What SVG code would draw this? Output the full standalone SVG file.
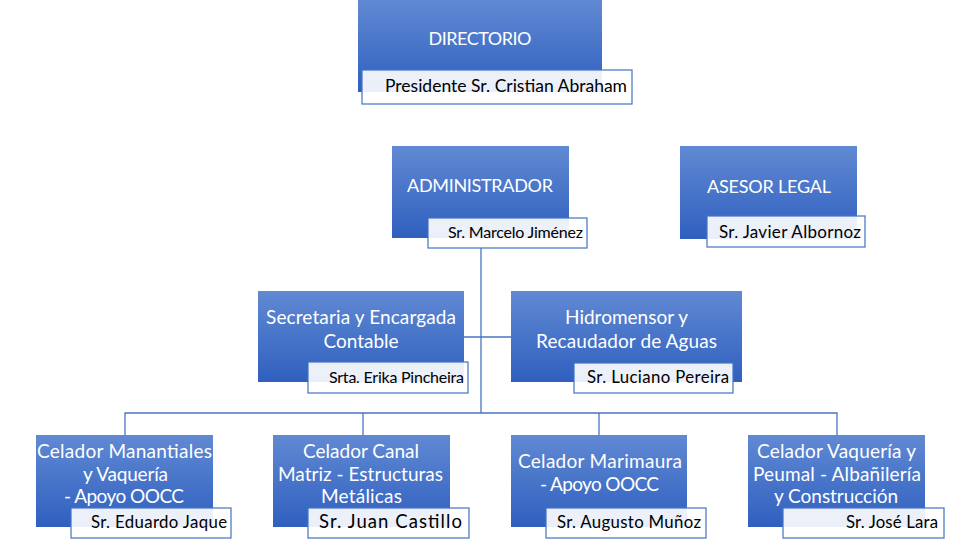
<svg xmlns="http://www.w3.org/2000/svg" width="978" height="549" viewBox="0 0 978 549">
<defs>
<linearGradient id="g" x1="0" y1="0" x2="0" y2="1">
<stop offset="0" stop-color="#6189d3"/>
<stop offset="1" stop-color="#2f60bf"/>
</linearGradient>
<style>
.box{fill:url(#g)}
.lbl{fill:#ffffff;fill-opacity:0.9;stroke:#4472c4;stroke-width:1.2}
.t{font-family:Lato,"Open Sans","Liberation Sans",sans-serif;font-size:19px;fill:#ffffff;text-anchor:middle}
.u{font-size:18px}
.n{font-family:Lato,"Open Sans","Liberation Sans",sans-serif;font-size:16.8px;fill:#000000;text-anchor:end}
.c{fill:none;stroke:#4a74c4;stroke-width:1.3}
</style>
</defs>
<rect width="978" height="549" fill="#ffffff"/>
<g id="connectors">
<path class="c" d="M481 248 V413"/>
<path class="c" d="M464 337 H511"/>
<path class="c" d="M125 435 V413 H837 V435"/>
<path class="c" d="M363 413 V435"/>
<path class="c" d="M599 413 V435"/>
</g>
<g id="directorio">
<rect class="box" x="358" y="0" width="244" height="92"/>
<text class="t u" x="480" y="45" textLength="103">DIRECTORIO</text>
<rect class="lbl" x="362" y="70" width="270" height="34"/>
<text class="n" x="627" y="92" style="font-size:17.5px" textLength="242">Presidente Sr. Cristian Abraham</text>
</g>
<g id="administrador">
<rect class="box" x="392" y="146" width="177" height="92"/>
<text class="t u" x="480" y="192" textLength="146">ADMINISTRADOR</text>
<rect class="lbl" x="428" y="218" width="159" height="30"/>
<text class="n" x="583" y="238" style="font-size:16px" textLength="135">Sr. Marcelo Jiménez</text>
</g>
<g id="asesor">
<rect class="box" x="680" y="146" width="177" height="93"/>
<text class="t u" x="769" y="193" textLength="124">ASESOR LEGAL</text>
<rect class="lbl" x="707" y="216" width="158" height="31"/>
<text class="n" x="861" y="238" style="font-size:17px" textLength="142">Sr. Javier Albornoz</text>
</g>
<g id="secretaria">
<rect class="box" x="258" y="291" width="206" height="91"/>
<text class="t" x="361" y="324" textLength="190">Secretaria y Encargada</text>
<text class="t" x="361" y="348" textLength="75">Contable</text>
<rect class="lbl" x="308" y="362" width="160" height="31"/>
<text class="n" x="464" y="383" style="font-size:16px" textLength="135">Srta. Erika Pincheira</text>
</g>
<g id="hidromensor">
<rect class="box" x="511" y="291" width="231" height="91"/>
<text class="t" x="626.5" y="324" textLength="123">Hidromensor y</text>
<text class="t" x="626.5" y="348" textLength="181">Recaudador de Aguas</text>
<rect class="lbl" x="574" y="363" width="159" height="30"/>
<text class="n" x="729" y="383" textLength="142">Sr. Luciano Pereira</text>
</g>
<g id="celador1">
<rect class="box" x="36" y="435" width="177" height="92"/>
<text class="t" x="124.5" y="458" textLength="175">Celador Manantiales</text>
<text class="t" x="125.5" y="481" textLength="85">y Vaquería</text>
<text class="t" x="124" y="503" textLength="120">- Apoyo OOCC</text>
<rect class="lbl" x="71" y="508" width="160" height="30"/>
<text class="n" x="227" y="528" textLength="136">Sr. Eduardo Jaque</text>
</g>
<g id="celador2">
<rect class="box" x="273" y="435" width="177" height="92"/>
<text class="t" x="361" y="458" textLength="116">Celador Canal</text>
<text class="t" x="360.5" y="481" textLength="165">Matriz - Estructuras</text>
<text class="t" x="361.5" y="503" textLength="81">Metálicas</text>
<rect class="lbl" x="308" y="508" width="161" height="30"/>
<text class="n" x="462" y="528" style="font-size:18.5px" textLength="143">Sr. Juan Castillo</text>
</g>
<g id="celador3">
<rect class="box" x="511" y="435" width="176" height="92"/>
<text class="t" x="600" y="468" textLength="164">Celador Marimaura</text>
<text class="t" x="599.5" y="491" textLength="119">- Apoyo OOCC</text>
<rect class="lbl" x="546" y="508" width="160" height="30"/>
<text class="n" x="701" y="528" textLength="144">Sr. Augusto Muñoz</text>
</g>
<g id="celador4">
<rect class="box" x="748" y="435" width="177" height="92"/>
<text class="t" x="836.5" y="458" textLength="159">Celador Vaquería y</text>
<text class="t" x="837" y="481" textLength="168">Peumal - Albañilería</text>
<text class="t" x="836" y="503" textLength="124">y Construcción</text>
<rect class="lbl" x="783" y="508" width="161" height="30"/>
<text class="n" x="938" y="528" textLength="92">Sr. José Lara</text>
</g>
</svg>
